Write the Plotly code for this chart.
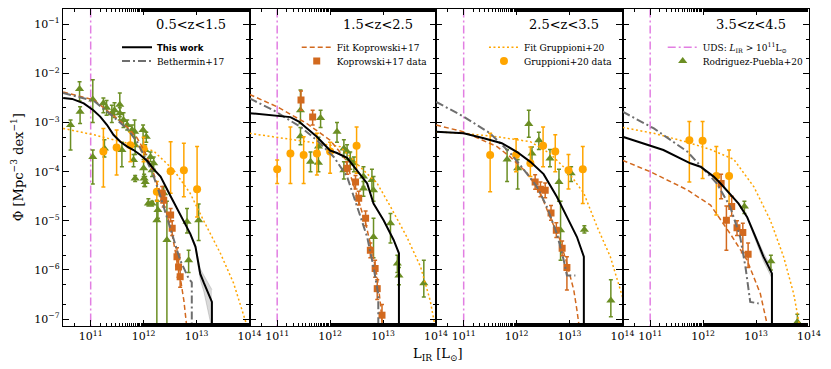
import numpy as np
import plotly.graph_objects as go
from plotly.subplots import make_subplots

# ---------------- data (log10 L_IR [Lsun], log10 Phi [Mpc^-3 dex^-1]) ----------------
PANEL_TITLES = ["0.5&lt;z&lt;1.5", "1.5&lt;z&lt;2.5", "2.5&lt;z&lt;3.5", "3.5&lt;z&lt;4.5"]
UDS_LIMIT = 1e11
X_TICKS = [1e11, 1e12, 1e13, 1e14]
Y_TICKS = [1e-7, 1e-6, 1e-5, 1e-4, 1e-3, 1e-2, 1e-1]

# This work
tw_logL_1 = [10.48, 10.65, 10.87, 11.05, 11.18, 11.31, 11.43, 11.56, 11.69, 11.81, 11.94, 12.07, 12.19, 12.32, 12.51, 12.69, 12.88, 12.98, 13.07, 13.14, 13.29, 13.29]
tw_logP_1 = [-2.50, -2.52, -2.61, -2.75, -2.88, -3.05, -3.25, -3.39, -3.49, -3.56, -3.66, -3.78, -3.95, -4.10, -4.50, -4.88, -5.26, -5.53, -6.08, -6.27, -6.65, -12.0]
tw_logL_2 = [10.48, 11.25, 11.41, 11.75, 12.00, 12.13, 12.32, 12.45, 12.57, 12.70, 12.82, 13.01, 13.20, 13.30, 13.30]
tw_logP_2 = [-2.81, -2.89, -2.98, -3.29, -3.57, -3.62, -3.72, -3.90, -4.05, -4.24, -4.65, -4.99, -5.39, -5.66, -12.0]
tw_logL_3 = [10.48, 11.00, 11.38, 11.72, 12.01, 12.26, 12.51, 12.76, 12.95, 13.14, 13.27, 13.27]
tw_logP_3 = [-3.19, -3.22, -3.32, -3.42, -3.60, -3.80, -4.05, -4.51, -4.92, -5.33, -5.73, -12.0]
tw_logL_4 = [10.48, 11.25, 11.76, 11.95, 12.20, 12.33, 12.67, 12.83, 12.99, 13.14, 13.30, 13.30]
tw_logP_4 = [-3.29, -3.56, -3.83, -3.90, -4.10, -4.24, -4.65, -4.92, -5.33, -5.73, -6.07, -12.0]

# This work uncertainty band (only where visible)
band_logL_1 = [12.88, 12.98, 13.07, 13.14, 13.29]
band_hi_1 = [-5.24, -5.49, -5.98, -6.12, -6.40]
band_lo_1 = [-5.28, -5.57, -6.20, -6.45, -7.20]
band_logL_4 = [12.83, 12.99, 13.14, 13.30]
band_hi_4 = [-4.90, -5.28, -5.65, -5.97]
band_lo_4 = [-4.94, -5.38, -5.82, -6.17]

# Bethermin+17
be_logL_1 = [10.48, 11.06, 11.37, 11.69, 11.88, 12.00, 12.16, 12.32, 12.51, 12.69, 12.85, 12.91, 12.91]
be_logP_1 = [-2.40, -2.56, -2.83, -3.13, -3.40, -3.65, -4.00, -4.51, -5.19, -5.80, -6.17, -6.25, -12.0]
be_logL_2 = [10.48, 10.93, 11.44, 11.75, 12.07, 12.32, 12.51, 12.70, 12.82, 12.89, 12.91, 12.91]
be_logP_2 = [-2.51, -2.75, -3.09, -3.36, -3.70, -4.10, -4.71, -5.33, -5.94, -6.41, -6.50, -12.0]
be_logL_3 = [10.48, 11.00, 11.50, 11.88, 12.13, 12.38, 12.57, 12.76, 12.89, 12.95, 13.11]
be_logP_3 = [-2.58, -2.88, -3.22, -3.62, -3.95, -4.30, -4.71, -5.26, -5.80, -6.11, -6.11]
be_logL_4 = [10.48, 11.07, 11.70, 12.07, 12.26, 12.51, 12.70, 12.80, 12.89, 13.05]
be_logP_4 = [-2.78, -3.12, -3.59, -4.03, -4.24, -4.71, -5.33, -5.94, -6.65, -6.68]

# Fit Koprowski+17
kf_logL_1 = [10.48, 11.06, 11.37, 11.69, 11.88, 12.00, 12.16, 12.32, 12.51, 12.60, 12.69, 12.76, 12.81, 12.84]
kf_logP_1 = [-2.38, -2.54, -2.81, -3.09, -3.32, -3.55, -3.95, -4.44, -5.12, -5.60, -6.14, -6.62, -7.09, -7.40]
kf_logL_2 = [10.48, 11.00, 11.56, 12.00, 12.26, 12.32, 12.51, 12.67, 12.79, 12.89, 12.95, 12.98, 13.00]
kf_logP_2 = [-2.43, -2.68, -3.02, -3.36, -3.70, -3.85, -4.50, -5.05, -5.60, -6.14, -6.68, -7.02, -7.30]
kf_logL_3 = [10.48, 11.00, 11.63, 11.88, 12.20, 12.45, 12.63, 12.82, 12.95, 13.08, 13.14, 13.17, 13.20]
kf_logP_3 = [-3.05, -3.19, -3.49, -3.70, -4.03, -4.44, -4.92, -5.39, -5.87, -6.41, -6.82, -7.02, -7.30]
kf_logL_4 = [10.48, 11.00, 11.70, 12.14, 12.51, 12.83, 13.08, 13.21, 13.25]
kf_logP_4 = [-3.77, -4.00, -4.37, -4.68, -5.26, -5.80, -6.48, -7.09, -7.30]

# Fit Gruppioni+20
gf_logL_1 = [10.48, 11.06, 11.69, 12.19, 12.57, 12.88, 13.13, 13.45, 13.70, 13.89, 14.00]
gf_logP_1 = [-3.12, -3.25, -3.42, -3.58, -3.97, -4.44, -4.99, -5.66, -6.27, -6.95, -7.30]
gf_logL_2 = [10.48, 11.56, 12.19, 12.63, 12.89, 13.14, 13.45, 13.71, 13.89, 13.96, 14.00]
gf_logP_2 = [-3.22, -3.39, -3.49, -3.97, -4.24, -4.71, -5.33, -5.94, -6.62, -7.02, -7.20]
gf_logL_3 = [10.48, 11.00, 11.63, 12.26, 12.63, 12.95, 13.27, 13.52, 13.77, 13.96, 14.00]
gf_logP_3 = [-3.19, -3.22, -3.29, -3.39, -3.63, -3.97, -4.44, -5.12, -5.73, -6.41, -6.55]
gf_logL_4 = [10.48, 11.07, 11.70, 12.14, 12.58, 12.96, 13.27, 13.52, 13.71, 13.81, 13.85]
gf_logP_4 = [-3.10, -3.22, -3.40, -3.55, -3.75, -4.31, -4.99, -5.73, -6.48, -7.02, -7.30]

# Rodriguez-Puebla+20 data (logL, logPhi, upper, lower); lower -12 = error bar to bottom
rp_logL_1 = [10.62, 10.79, 10.80, 11.04, 11.04, 11.24, 11.26, 11.30, 11.40, 11.45, 11.55, 11.55, 11.59, 11.62, 11.69, 11.78, 11.83, 11.84, 11.84, 11.81, 11.99, 12.05, 12.03, 12.00, 12.01, 12.03, 12.13, 12.16, 12.19, 12.09, 12.16, 12.25, 12.27, 12.38, 12.44, 12.82, 12.85, 13.04]
rp_logP_1 = [-3.05, -2.32, -2.78, -2.53, -3.70, -2.61, -3.53, -2.70, -2.81, -2.75, -2.64, -2.81, -3.56, -2.95, -3.05, -3.15, -3.19, -3.46, -4.14, -3.76, -3.15, -3.29, -3.56, -3.93, -4.14, -4.21, -3.70, -3.97, -3.83, -4.65, -4.65, -4.99, -4.78, -4.44, -5.39, -5.02, -5.80, -4.99]
rp_hi_1 = [-2.95, -2.17, -2.68, -2.13, -3.56, -2.50, -3.35, -2.55, -2.65, -2.60, -2.40, -2.70, -3.40, -2.80, -2.95, -3.05, -2.95, -3.30, -4.08, -3.65, -3.05, -3.20, -3.45, -3.75, -4.05, -4.10, -3.60, -3.85, -3.70, -4.55, -4.60, -4.58, -4.60, -4.30, -4.60, -4.75, -5.60, -4.66]
rp_lo_1 = [-3.56, -2.56, -3.02, -3.00, -4.25, -2.80, -3.70, -2.85, -3.00, -2.90, -2.88, -2.95, -3.90, -3.10, -3.15, -3.25, -3.45, -3.65, -4.20, -3.90, -3.55, -3.40, -3.65, -4.10, -4.30, -4.30, -3.80, -4.10, -3.95, -4.70, -4.70, -12.0, -4.95, -4.60, -12.0, -5.25, -6.05, -5.40]
rp_logL_2 = [11.44, 11.44, 11.63, 11.78, 11.78, 11.82, 12.13, 12.26, 12.32, 12.38, 12.26, 12.45, 12.63, 12.79, 12.63, 12.82, 13.14, 12.82, 13.27, 13.30, 13.77]
rp_logP_2 = [-2.75, -3.28, -3.80, -3.82, -3.49, -2.91, -3.19, -3.53, -3.59, -3.76, -3.97, -3.83, -4.10, -4.17, -4.34, -4.38, -5.05, -5.33, -5.87, -6.11, -6.27]
rp_hi_2 = [-2.34, -3.10, -3.60, -3.65, -3.30, -2.75, -3.00, -3.35, -3.45, -3.60, -3.80, -3.70, -3.90, -3.95, -4.20, -4.10, -4.85, -4.95, -5.70, -5.95, -5.80]
rp_lo_2 = [-3.02, -3.45, -4.00, -4.00, -3.65, -3.10, -3.40, -3.70, -3.75, -3.95, -4.15, -4.00, -4.30, -4.40, -4.50, -4.60, -5.45, -5.75, -6.05, -6.30, -6.55]
rp_logL_3 = [11.82, 12.02, 12.23, 12.42, 12.63, 12.29, 13.03, 12.80, 12.83, 13.28, 13.78]
rp_logP_3 = [-3.75, -3.93, -3.03, -3.36, -3.73, -3.63, -4.03, -4.21, -5.19, -5.18, -6.62]
rp_hi_3 = [-3.55, -3.75, -2.75, -3.20, -3.55, -3.50, -3.90, -3.95, -4.60, -5.10, -6.20]
rp_lo_3 = [-4.20, -4.35, -3.30, -3.55, -3.90, -3.80, -4.20, -4.60, -5.80, -5.25, -6.95]
rp_logL_4 = [12.78, 13.28, 13.78]
rp_logP_4 = [-4.71, -5.82, -7.06]
rp_hi_4 = [-4.60, -5.70, -6.90]
rp_lo_4 = [-4.85, -6.00, -12.0]

# Gruppioni+20 data
gd_logL_1 = [11.24, 11.49, 11.75, 12.00, 12.25, 12.51, 12.76, 13.01]
gd_logP_1 = [-3.59, -3.51, -3.46, -3.53, -4.41, -3.99, -3.97, -4.36]
gd_hi_1 = [-3.12, -3.15, -3.20, -3.30, -4.20, -3.39, -3.42, -3.49]
gd_lo_1 = [-4.31, -4.07, -3.80, -3.80, -4.60, -4.44, -4.51, -4.92]
gd_logL_2 = [11.00, 11.25, 11.50, 11.75, 12.00, 12.50]
gd_logP_2 = [-3.95, -3.63, -3.66, -3.63, -3.59, -3.47]
gd_hi_2 = [-3.76, -3.09, -3.29, -3.22, -3.40, -3.09]
gd_lo_2 = [-4.24, -4.24, -4.24, -4.07, -4.03, -4.03]
gd_logL_3 = [11.50, 11.99, 12.26, 12.50, 12.73, 12.98, 13.25]
gd_logP_3 = [-3.66, -3.66, -3.83, -3.47, -3.59, -3.97, -3.95]
gd_hi_3 = [-3.22, -3.33, -3.50, -3.09, -3.25, -3.65, -3.49]
gd_lo_3 = [-4.41, -4.00, -4.10, -3.90, -4.00, -4.35, -4.65]
gd_logL_4 = [11.74, 11.99, 12.25, 12.49]
gd_logP_4 = [-3.36, -3.37, -4.09, -4.09]
gd_hi_4 = [-2.98, -2.98, -3.49, -3.56]
gd_lo_4 = [-4.21, -4.14, -4.88, -4.71]

# Koprowski+17 data
kd_logL_1 = [12.35, 12.38, 12.51, 12.54, 12.63, 12.66, 12.69]
kd_logP_1 = [-4.44, -4.58, -4.88, -5.15, -5.73, -5.94, -6.14]
kd_hi_1 = [-4.30, -4.45, -4.75, -5.00, -5.55, -5.75, -5.95]
kd_lo_1 = [-4.58, -4.72, -5.02, -5.30, -5.92, -6.15, -6.35]
kd_logL_2 = [11.45, 11.67, 12.32, 12.48, 12.54, 12.67, 12.76, 12.85, 12.89, 12.98]
kd_logP_2 = [-2.54, -2.89, -3.93, -4.21, -4.54, -4.95, -5.60, -5.97, -6.38, -6.92]
kd_hi_2 = [-2.36, -2.75, -3.80, -4.08, -4.40, -4.80, -5.45, -5.80, -6.20, -6.70]
kd_lo_2 = [-2.75, -3.05, -4.05, -4.35, -4.68, -5.10, -5.75, -6.15, -6.60, -7.20]
kd_logL_3 = [12.35, 12.45, 12.54, 12.65, 12.75, 12.86, 12.95]
kd_logP_3 = [-4.21, -4.36, -4.38, -4.84, -5.19, -5.56, -5.95]
kd_hi_3 = [-4.06, -4.21, -4.23, -4.69, -5.04, -5.41, -5.73]
kd_lo_3 = [-4.36, -4.51, -4.53, -4.99, -5.34, -5.71, -6.41]
kd_logL_4 = [12.34, 12.54, 12.44, 12.64, 12.75, 12.85]
kd_logP_4 = [-4.24, -4.71, -4.99, -5.14, -5.24, -5.68]
kd_hi_4 = [-4.05, -4.50, -4.70, -5.00, -5.05, -5.45]
kd_lo_4 = [-4.55, -4.90, -5.60, -5.30, -5.65, -5.95]

# ---------------- styles ----------------
C_TW = "black"
C_BE = "#6e6e6e"
C_KO = "#d2691e"
C_GR = "#ffa500"
C_RP = "#6b8e23"
C_UDS = "#e27ee2"
SERIF = "DejaVu Serif"
DASH_DOT = "8px,3px,2px,3px"
DASHED = "5px,3px"
DOTTED = "2px,2.5px"

P = lambda a: 10 ** np.asarray(a, dtype=float)


def err(logp, hi, lo):
    phi = P(logp)
    return dict(type="data", symmetric=False, array=P(hi) - phi, arrayminus=phi - P(lo),
                thickness=1.5, width=2)


tw = [(tw_logL_1, tw_logP_1), (tw_logL_2, tw_logP_2), (tw_logL_3, tw_logP_3), (tw_logL_4, tw_logP_4)]
be = [(be_logL_1, be_logP_1), (be_logL_2, be_logP_2), (be_logL_3, be_logP_3), (be_logL_4, be_logP_4)]
kf = [(kf_logL_1, kf_logP_1), (kf_logL_2, kf_logP_2), (kf_logL_3, kf_logP_3), (kf_logL_4, kf_logP_4)]
gf = [(gf_logL_1, gf_logP_1), (gf_logL_2, gf_logP_2), (gf_logL_3, gf_logP_3), (gf_logL_4, gf_logP_4)]
rp = [(rp_logL_1, rp_logP_1, rp_hi_1, rp_lo_1), (rp_logL_2, rp_logP_2, rp_hi_2, rp_lo_2),
      (rp_logL_3, rp_logP_3, rp_hi_3, rp_lo_3), (rp_logL_4, rp_logP_4, rp_hi_4, rp_lo_4)]
gd = [(gd_logL_1, gd_logP_1, gd_hi_1, gd_lo_1), (gd_logL_2, gd_logP_2, gd_hi_2, gd_lo_2),
      (gd_logL_3, gd_logP_3, gd_hi_3, gd_lo_3), (gd_logL_4, gd_logP_4, gd_hi_4, gd_lo_4)]
kd = [(kd_logL_1, kd_logP_1, kd_hi_1, kd_lo_1), (kd_logL_2, kd_logP_2, kd_hi_2, kd_lo_2),
      (kd_logL_3, kd_logP_3, kd_hi_3, kd_lo_3), (kd_logL_4, kd_logP_4, kd_hi_4, kd_lo_4)]
bands = {0: (band_logL_1, band_hi_1, band_lo_1), 3: (band_logL_4, band_hi_4, band_lo_4)}

fig = make_subplots(rows=1, cols=4, shared_yaxes=True, horizontal_spacing=0)

for i in range(4):
    col = i + 1
    show = lambda k: (i == k)
    # UDS limit line
    fig.add_trace(go.Scatter(x=[UDS_LIMIT, UDS_LIMIT], y=[1e-9, 1.0], mode="lines",
                             line=dict(color=C_UDS, width=1.5, dash=DASH_DOT),
                             name="UDS: <i>L</i><sub>IR</sub> &gt; 10<sup>11</sup>L<sub>⊙</sub>",
                             legend="legend7", showlegend=show(3)), row=1, col=col)
    # band
    if i in bands:
        bl, bh, blo = bands[i]
        fig.add_trace(go.Scatter(x=P(bl), y=P(bh), mode="lines", line=dict(color="rgba(120,120,120,0.6)", width=0.5),
                                 showlegend=False, hoverinfo="skip"), row=1, col=col)
        fig.add_trace(go.Scatter(x=P(bl), y=P(blo), mode="lines", line=dict(color="rgba(120,120,120,0.6)", width=0.5),
                                 fill="tonexty", fillcolor="rgba(150,150,150,0.35)",
                                 showlegend=False, hoverinfo="skip"), row=1, col=col)
    # Rodriguez-Puebla data
    l, p, h, lo = rp[i]
    fig.add_trace(go.Scatter(x=P(l), y=P(p), mode="markers",
                             marker=dict(symbol="triangle-up", size=8, color=C_RP),
                             error_y=dict(err(p, h, lo), color=C_RP),
                             name="Rodriguez-Puebla+20", legend="legend8",
                             showlegend=show(3)), row=1, col=col)
    # Gruppioni data
    l, p, h, lo = gd[i]
    fig.add_trace(go.Scatter(x=P(l), y=P(p), mode="markers",
                             marker=dict(symbol="circle", size=8, color=C_GR),
                             error_y=dict(err(p, h, lo), color=C_GR),
                             name="Gruppioni+20 data", legend="legend6",
                             showlegend=show(2)), row=1, col=col)
    # Koprowski data
    l, p, h, lo = kd[i]
    fig.add_trace(go.Scatter(x=P(l), y=P(p), mode="markers",
                             marker=dict(symbol="square", size=7, color=C_KO),
                             error_y=dict(err(p, h, lo), color=C_KO),
                             name="Koprowski+17 data", legend="legend4",
                             showlegend=show(1)), row=1, col=col)
    # Fit Gruppioni
    l, p = gf[i]
    fig.add_trace(go.Scatter(x=P(l), y=P(p), mode="lines", line=dict(color=C_GR, width=1.5, dash=DOTTED),
                             name="Fit Gruppioni+20", legend="legend5",
                             showlegend=show(2)), row=1, col=col)
    # Fit Koprowski
    l, p = kf[i]
    fig.add_trace(go.Scatter(x=P(l), y=P(p), mode="lines", line=dict(color=C_KO, width=1.5, dash=DASHED),
                             name="Fit Koprowski+17", legend="legend3",
                             showlegend=show(1)), row=1, col=col)
    # Bethermin
    l, p = be[i]
    fig.add_trace(go.Scatter(x=P(l), y=P(p), mode="lines", line=dict(color=C_BE, width=2, dash=DASH_DOT),
                             name="Bethermin+17", legend="legend2",
                             showlegend=show(0)), row=1, col=col)
    # This work
    l, p = tw[i]
    fig.add_trace(go.Scatter(x=P(l), y=P(p), mode="lines", line=dict(color=C_TW, width=2),
                             name="<b>This work</b>", legend="legend", showlegend=show(0)), row=1, col=col)

    # title
    fig.add_annotation(text=PANEL_TITLES[i], xref=f"x{'' if i == 0 else col} domain",
                       yref="y domain", x=0.885, y=0.95, xanchor="right", yanchor="middle",
                       showarrow=False, font=dict(family=SERIF, size=13, color="black"))

axis_common = dict(type="log", showline=True, linecolor="black", linewidth=1.2, mirror="allticks",
                   ticks="inside", ticklen=6, tickwidth=1, tickcolor="black", showgrid=False,
                   zeroline=False, tickfont=dict(family=SERIF, size=11, color="black"),
                   minor=dict(ticks="inside", ticklen=3, tickwidth=0.8, tickcolor="black", showgrid=False))

for i in range(4):
    fig.update_xaxes(axis_common, row=1, col=i + 1)
    fig.update_xaxes(range=[np.log10(3e10), 14.0001], tickmode="array", tickvals=X_TICKS,
                     ticktext=[f"10<sup>{int(np.log10(v))}</sup>" for v in X_TICKS], row=1, col=i + 1)
    fig.update_yaxes(axis_common, row=1, col=i + 1)
    fig.update_yaxes(range=[-7.14, -0.69], tickmode="array", tickvals=Y_TICKS,
                     ticktext=[f"10<sup>−{-int(round(np.log10(v)))}</sup>" for v in Y_TICKS],
                     row=1, col=i + 1)


def leg(x, y, family=SERIF, size=9):
    return dict(bgcolor="rgba(0,0,0,0)", font=dict(family=family, size=size, color="black"),
                xanchor="left", yanchor="middle", itemwidth=30, tracegroupgap=0,
                traceorder="normal", x=x, y=y, borderwidth=0)


ROW1, ROW2 = 0.879, 0.836
fig.update_layout(
    width=831, height=369, margin=dict(l=63, r=22, t=9, b=43),
    plot_bgcolor="white", paper_bgcolor="white",
    legend=leg(0.0724, ROW1, family="DejaVu Sans", size=8.5),
    legend2=leg(0.0724, ROW2),
    legend3=leg(0.3133, ROW1),
    legend4=leg(0.3133, ROW2),
    legend5=leg(0.5643, ROW1),
    legend6=leg(0.5643, ROW2),
    legend7=leg(0.8039, ROW1),
    legend8=leg(0.8039, ROW2),
)

fig.add_annotation(text="Φ [Mpc<sup>−3</sup> dex<sup>−1</sup>]", xref="paper", yref="paper",
                   x=-0.062, y=0.5, textangle=-90, showarrow=False, xanchor="center", yanchor="middle",
                   font=dict(family=SERIF, size=13, color="black"))
fig.add_annotation(text="L<sub>IR</sub> [L<sub>⊙</sub>]", xref="paper", yref="paper",
                   x=0.503, y=-0.09, showarrow=False, xanchor="center", yanchor="middle",
                   font=dict(family=SERIF, size=13, color="black"))

fig.write_html("out.html", config={"displayModeBar": False},
               post_script="document.body.style.margin='0px';document.body.style.overflow='hidden';")
